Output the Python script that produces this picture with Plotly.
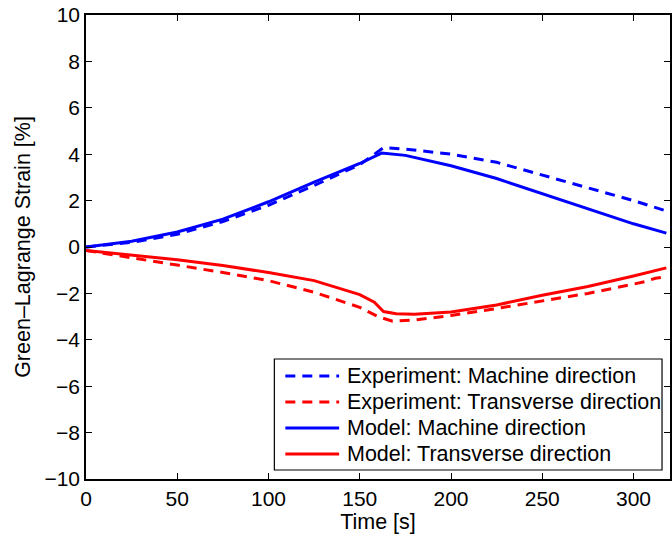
import plotly.graph_objects as go

# Experiment: Machine direction
exp_md_t = [0, 25, 50, 75, 100, 125, 150, 160, 163, 175, 200, 225, 250, 275, 300, 318]
exp_md_v = [0, 0.2, 0.55, 1.1, 1.8, 2.65, 3.55, 4.1, 4.28, 4.22, 4.0, 3.65, 3.1, 2.55, 2.0, 1.55]

# Experiment: Transverse direction
exp_td_t = [0, 25, 50, 75, 100, 125, 150, 160, 168, 180, 200, 225, 250, 275, 300, 306, 312, 318]
exp_td_v = [-0.15, -0.45, -0.78, -1.1, -1.45, -1.95, -2.6, -3.0, -3.2, -3.15, -2.95, -2.65, -2.32, -2.0, -1.6, -1.5, -1.35, -1.28]

# Model: Machine direction
mod_md_t = [0, 25, 50, 75, 100, 125, 150, 162, 175, 200, 225, 250, 275, 300, 318]
mod_md_v = [0, 0.25, 0.65, 1.2, 1.95, 2.8, 3.6, 4.05, 3.95, 3.5, 2.95, 2.3, 1.65, 1.0, 0.6]

# Model: Transverse direction
mod_td_t = [0, 25, 50, 75, 100, 125, 150, 158, 163, 170, 180, 200, 225, 250, 275, 300, 318]
mod_td_v = [-0.15, -0.35, -0.55, -0.8, -1.1, -1.45, -2.05, -2.38, -2.78, -2.88, -2.9, -2.8, -2.5, -2.08, -1.7, -1.25, -0.9]

x_ticks = [0, 50, 100, 150, 200, 250, 300]
y_ticks = [-10, -8, -6, -4, -2, 0, 2, 4, 6, 8, 10]

series_names = ["Experiment: Machine direction", "Experiment: Transverse direction",
                "Model: Machine direction", "Model: Transverse direction"]

BLUE = "#0000ff"
RED = "#ff0000"
DASH = "10px,7px"
FONT = "Liberation Sans, Arial"

styles = [dict(color=BLUE, width=3, dash=DASH), dict(color=RED, width=3, dash=DASH),
          dict(color=BLUE, width=3), dict(color=RED, width=3)]
data = [(exp_md_t, exp_md_v), (exp_td_t, exp_td_v), (mod_md_t, mod_md_v), (mod_td_t, mod_td_v)]

fig = go.Figure()
for (t, v), name, st in zip(data, series_names, styles):
    fig.add_trace(go.Scatter(x=t, y=v, mode="lines", name=name, line=st, showlegend=False))

axis_common = dict(
    showgrid=False, zeroline=False, showline=True, linecolor="black", linewidth=1.5,
    mirror="ticks", ticks="inside", ticklen=6, tickcolor="black", tickwidth=1,
    tickfont=dict(family=FONT, size=21, color="black"),
)

# Plot area in pixels: left 86, right 672, top 15, bottom 479
L, R, T, B = 86, 672, 15, 479
def px_x(p):
    return (p - L) / (R - L)
def px_y(p):
    return (B - p) / (B - T)

shapes = [dict(type="rect", xref="paper", yref="paper", x0=px_x(275), x1=px_x(664),
               y0=px_y(470), y1=px_y(359), line=dict(color="black", width=1.2),
               fillcolor="white", layer="above")]
annotations = []
row_y = [376, 402, 428, 454]
for ry, name, st in zip(row_y, series_names, styles):
    shapes.append(dict(type="line", xref="paper", yref="paper", x0=px_x(286), x1=px_x(340),
                       y0=px_y(ry), y1=px_y(ry),
                       line=dict(color=st["color"], width=3, dash=st.get("dash", "solid")),
                       layer="above"))
    annotations.append(dict(xref="paper", yref="paper", x=px_x(346), y=px_y(ry),
                            xanchor="left", yanchor="middle", showarrow=False, text=name,
                            font=dict(family=FONT, size=21.5, color="black")))

fig.update_layout(
    width=672, height=539,
    margin=dict(l=L, r=672 - R, t=T, b=539 - B),
    paper_bgcolor="white", plot_bgcolor="white",
    font=dict(family=FONT, size=21, color="black"),
    xaxis=dict(range=[0, 320], tickvals=x_ticks,
               title=dict(text="Time [s]", font=dict(size=21.5), standoff=2), **axis_common),
    yaxis=dict(range=[-10, 10], tickvals=y_ticks,
               title=dict(text="Green–Lagrange Strain [%]", font=dict(size=21.5), standoff=8), **axis_common),
    shapes=shapes,
    annotations=annotations,
    showlegend=False,
)

fig.write_html("out.html")
